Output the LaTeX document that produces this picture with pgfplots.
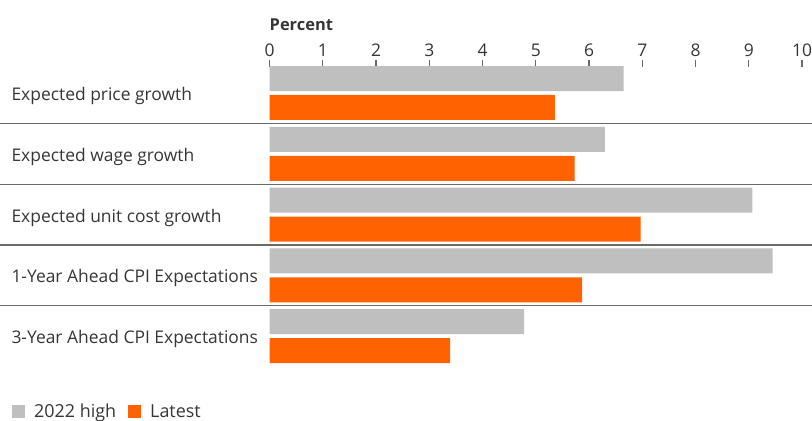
\documentclass[border=0pt]{standalone}
\usepackage{pgfplots}
\pgfplotsset{compat=1.18}
\usepackage{fontspec}
\setmainfont{Open Sans}
\definecolor{inggray}{HTML}{BFBFBF}
\definecolor{ingorange}{HTML}{FF6200}
\definecolor{txt}{HTML}{363636}
\definecolor{sep}{HTML}{6A6A6A}
\begin{document}
\begin{tikzpicture}
\useasboundingbox (0,0) rectangle (812bp,421bp);
\begin{axis}[
  at={(269.5bp,55bp)}, anchor=south west,
  scale only axis, width=532.5bp, height=306bp,
  xmin=0, xmax=10, ymin=-0.49, ymax=4.543,
  xbar, bar width=0.411,
  axis line style={draw=none},
  xtick={0,...,10},
  xtick pos=right, xticklabel pos=right,
  tick align=inside, major tick length=7bp,
  xtick style={draw=sep, line width=1.1bp},
  xticklabel style={yshift=0bp},
  ytick={0,...,4},
  yticklabels={3-Year Ahead CPI Expectations,1-Year Ahead CPI Expectations,Expected unit cost growth,Expected wage growth,Expected price growth},
  ytick style={draw=none},
  yticklabel style={anchor=west, xshift=-261.5bp, yshift=-3bp},
  /pgf/number format/assume math mode=true,
  ticklabel style={font=\fontsize{17.5}{20}\selectfont, text=txt},
  clip=false,
  legend style={at={(-0.4892,-0.1500)}, anchor=west, draw=none, fill=none,
    legend columns=-1, font=\fontsize{18}{21}\selectfont, text=txt,
    /tikz/every even column/.append style={column sep=10bp}},
  legend image code/.code={\fill[#1,draw=none] (0bp,-6.5bp) rectangle (13bp,6.5bp); \path (20bp,0);},
]
\addplot[fill=inggray, draw=none, bar shift=0.238] coordinates {
  (6.65,4) (6.30,3) (9.07,2) (9.45,1) (4.78,0)};
\addplot[fill=ingorange, draw=none, bar shift=-0.238] coordinates {
  (5.36,4) (5.73,3) (6.97,2) (5.87,1) (3.39,0)};
\legend{2022 high, Latest}
\foreach \yy in {0.5,1.5,2.5,3.5} {
  \edef\tmp{\noexpand\draw[sep, line width=1.2bp] (axis cs:-5.07,\yy) -- (axis cs:10.19,\yy);}
  \tmp
}
\end{axis}
\node[anchor=base west, text=txt, font=\fontsize{16.5}{19}\selectfont\bfseries, inner sep=0pt] at (269.5bp,390bp) {Percent};
\end{tikzpicture}
\end{document}
